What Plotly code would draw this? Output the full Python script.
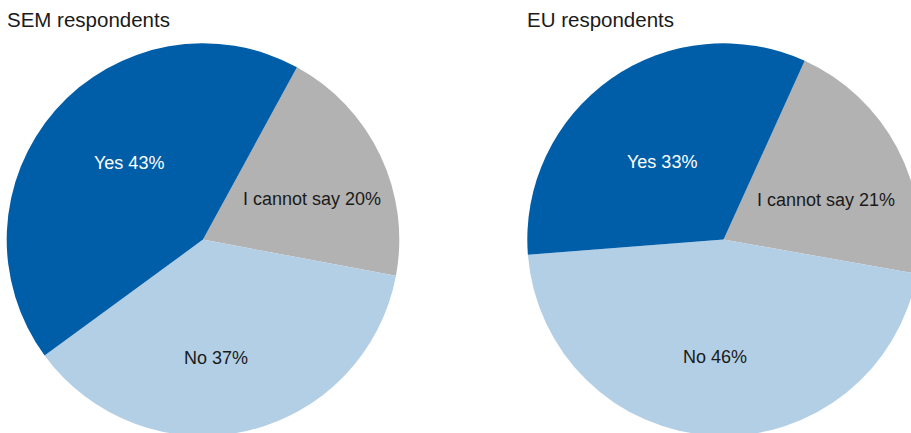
import math
import plotly.graph_objects as go

# Survey answers, listed clockwise from the first slice
categories = ["I cannot say", "No", "Yes"]
sem_values = [20, 37, 43]
eu_values = [21, 46, 33]
titles = ["SEM respondents", "EU respondents"]

slice_colors = ["#B2B2B2", "#B3CFE5", "#005EA8"]
label_colors = ["#1a1a1a", "#1a1a1a", "#ffffff"]
FONT = "Liberation Sans, Arial, Helvetica, sans-serif"

# Canvas is a little larger than the visible window so the pies can bleed off the edge
W, H = 930, 445

# Pie geometry in pixels (centre, radius), rotation of the first slice, and
# label placement per slice: (angle nudge in degrees, radius fraction)
pies = [
    dict(values=sem_values, title=titles[0], cx=203.0, cy=239.6, r=196.3, rot=28.6, tx=5,
         label_place=[(5.0, 0.59), (6.6, 0.608), (5.0, 0.543)]),
    dict(values=eu_values, title=titles[1], cx=723.6, cy=239.6, r=196.3, rot=24.4, tx=525,
         label_place=[(6.5, 0.559), (1.4, 0.60), (-3.4, 0.505)]),
]

fig = go.Figure()
annotations = []

for p in pies:
    x0, x1 = (p["cx"] - p["r"]) / W, (p["cx"] + p["r"]) / W
    y0, y1 = 1 - (p["cy"] + p["r"]) / H, 1 - (p["cy"] - p["r"]) / H
    fig.add_trace(go.Pie(
        labels=categories,
        values=p["values"],
        sort=False,
        direction="clockwise",
        rotation=p["rot"],
        marker=dict(colors=slice_colors, line=dict(width=0)),
        textinfo="none",
        hoverinfo="label+percent",
        showlegend=False,
        domain=dict(x=[x0, x1], y=[y0, y1]),
    ))

    # slice labels, placed relative to the middle angle of each wedge
    total = sum(p["values"])
    angle = p["rot"]
    for cat, val, col, (nudge, frac) in zip(categories, p["values"], label_colors, p["label_place"]):
        sweep = 360.0 * val / total
        mid = math.radians(angle + sweep / 2 + nudge)
        px = p["cx"] + frac * p["r"] * math.sin(mid)
        py = p["cy"] - frac * p["r"] * math.cos(mid)
        annotations.append(dict(
            x=px / W, y=1 - py / H, xref="paper", yref="paper",
            text=f"{cat} {round(100 * val / total)}%",
            showarrow=False, xanchor="center", yanchor="middle",
            font=dict(family=FONT, size=18, color=col),
        ))
        angle += sweep

    annotations.append(dict(
        x=p["tx"] / W, y=1 - 19 / H, xref="paper", yref="paper",
        text=p["title"], showarrow=False, xanchor="left", yanchor="middle",
        font=dict(family=FONT, size=20.5, color="#1a1a1a"),
    ))

fig.update_layout(
    width=W, height=H,
    margin=dict(l=0, r=0, t=0, b=0),
    paper_bgcolor="white",
    plot_bgcolor="white",
    annotations=annotations,
    font=dict(family=FONT),
)

fig.write_html(
    "out.html",
    post_script=(
        "document.documentElement.style.overflow='hidden';"
        "document.body.style.overflow='hidden';"
        "document.body.style.margin='0';"
    ),
)
